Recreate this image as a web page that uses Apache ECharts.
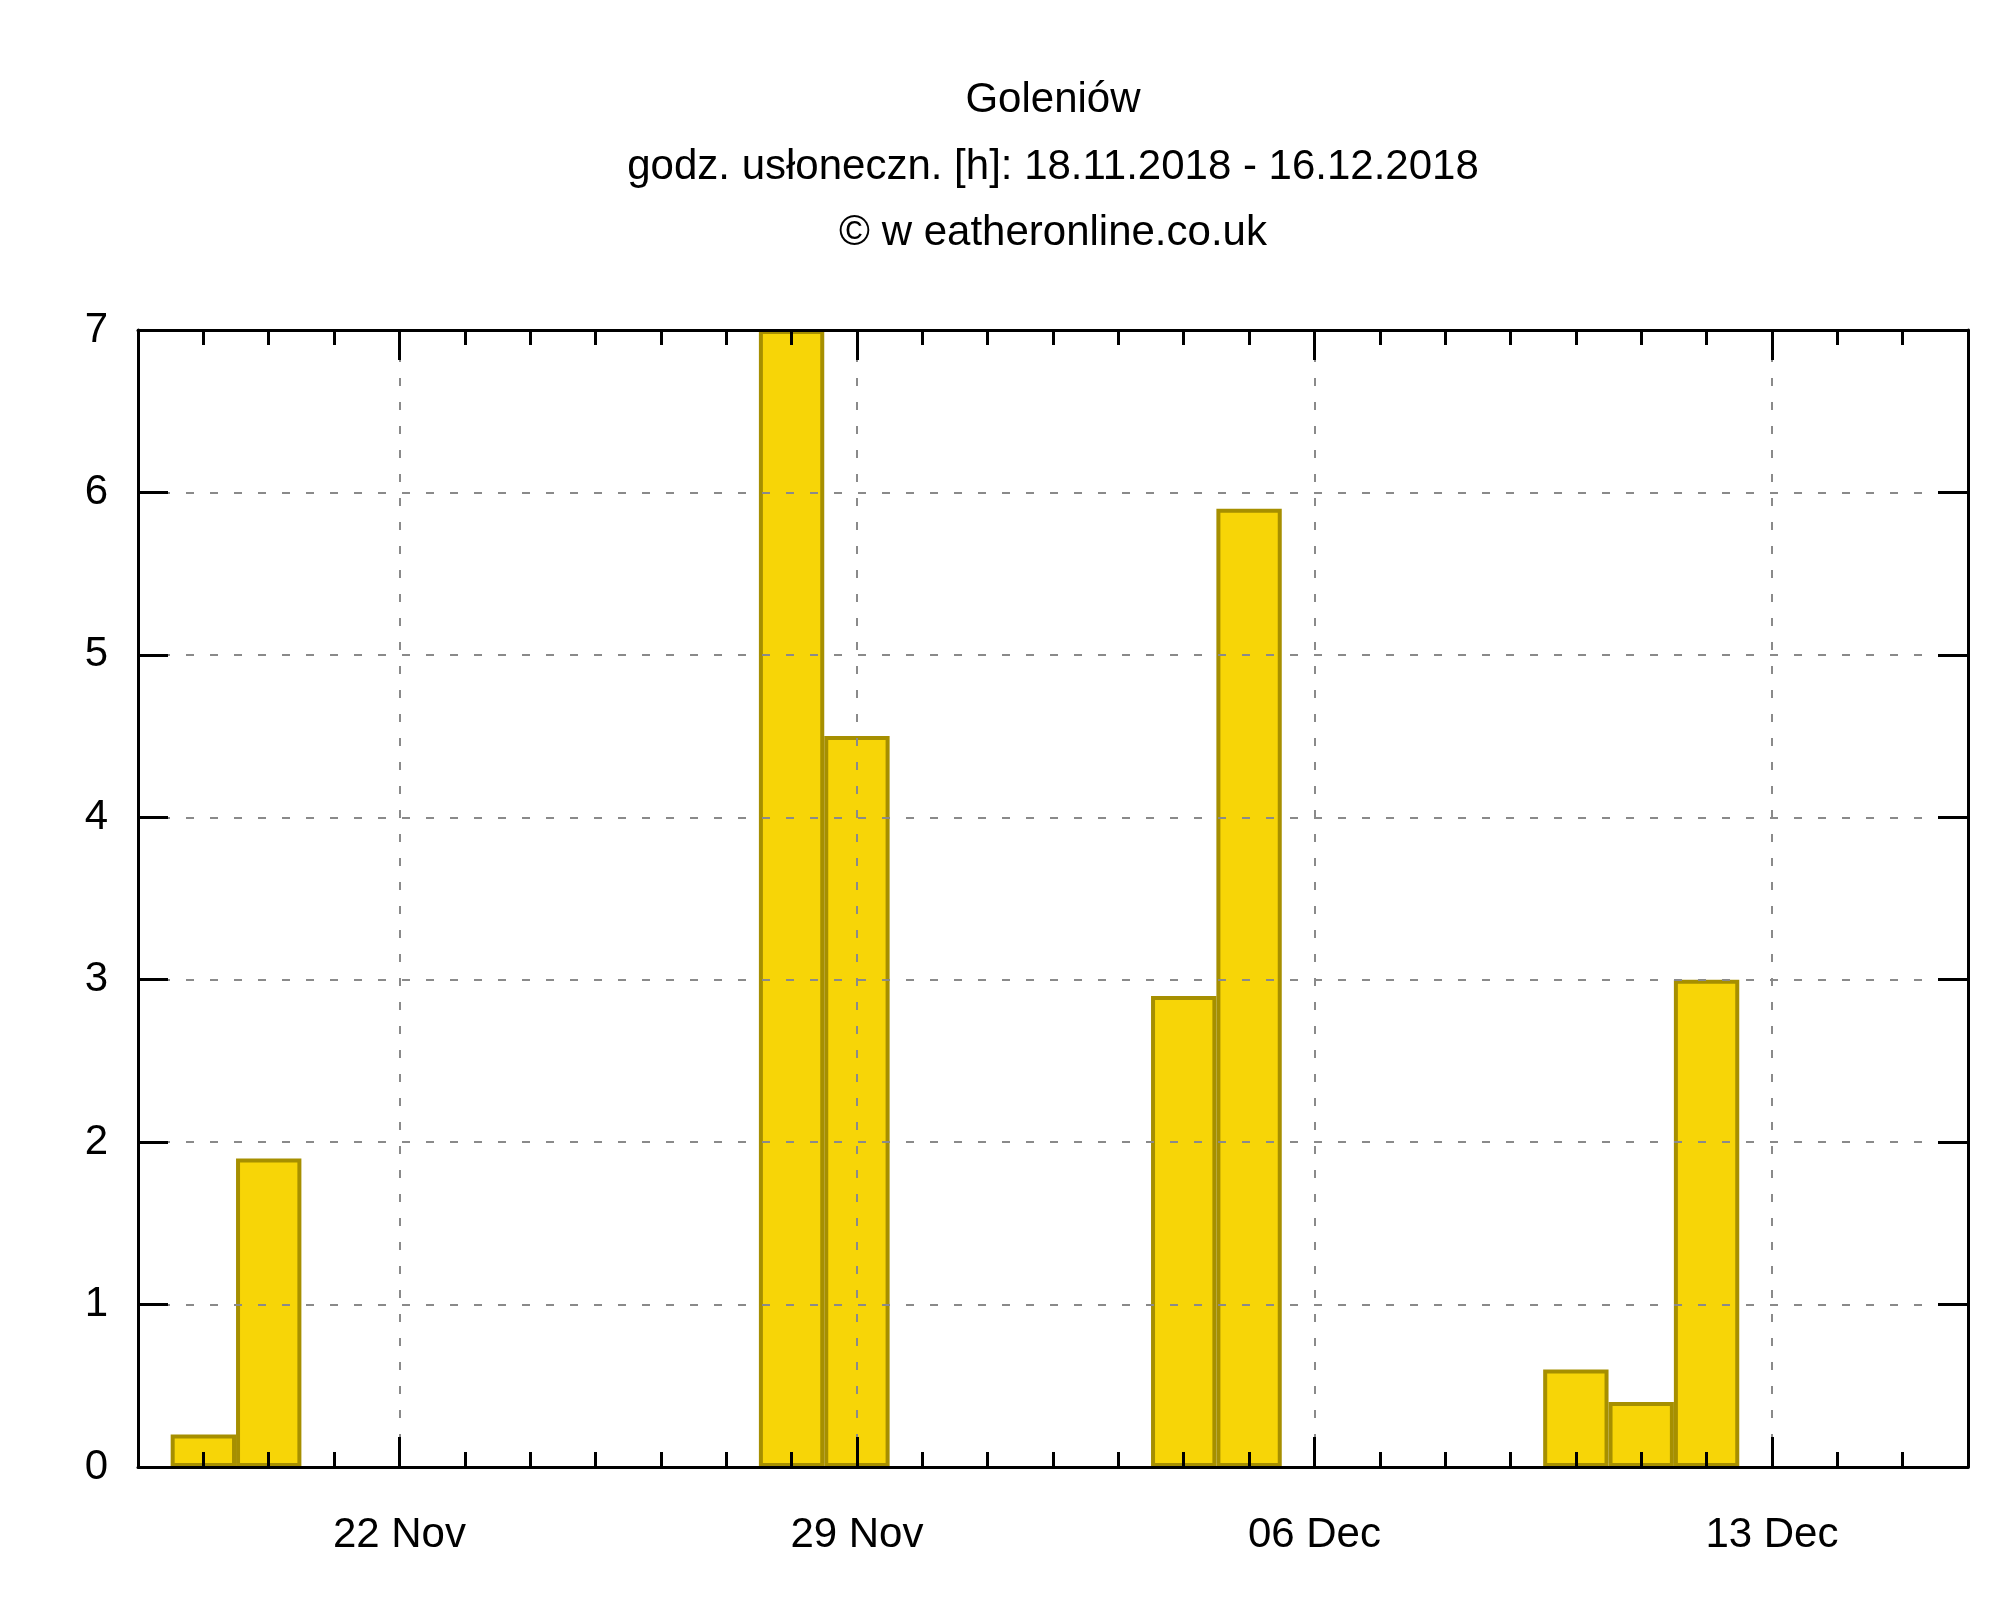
<!DOCTYPE html>
<html>
<head>
<meta charset="utf-8">
<script src="https://cdn.jsdelivr.net/npm/echarts@6/dist/echarts.min.js"></script>
<style>
html,body{margin:0;padding:0;background:#fff;}
#chart{width:2000px;height:1600px;}
</style>
</head>
<body>
<div id="chart"></div>
<script>
const titleLines = ['Goleniów', 'godz. usłoneczn. [h]: 18.11.2018 - 16.12.2018', '© w eatheronline.co.uk'];
const days = ['18 Nov','19 Nov','20 Nov','21 Nov','22 Nov','23 Nov','24 Nov','25 Nov','26 Nov','27 Nov',
  '28 Nov','29 Nov','30 Nov','01 Dec','02 Dec','03 Dec','04 Dec','05 Dec','06 Dec','07 Dec',
  '08 Dec','09 Dec','10 Dec','11 Dec','12 Dec','13 Dec','14 Dec','15 Dec','16 Dec'];
const sunshineHours = [0, 0.2, 1.9, 0, 0, 0, 0, 0, 0, 0,
  7.0, 4.5, 0, 0, 0, 0, 2.9, 5.9, 0, 0,
  0, 0, 0.6, 0.4, 3.0, 0, 0, 0, 0];
const labeledDays = ['22 Nov', '29 Nov', '06 Dec', '13 Dec'];
const yTicks = [0, 1, 2, 3, 4, 5, 6, 7];

const FONT = '"Liberation Sans", Arial, sans-serif';
const isLabeled = (i, v) => labeledDays.indexOf(days[i]) >= 0;
const isInterior = (i, v) => i > 0 && i < days.length - 1;
const gridLine = {show: true, lineStyle: {color: '#8a8a8a', width: 2, type: [8, 16]}};
const frame = {show: true, lineStyle: {color: '#000', width: 3}};

function xAxisDef(position, tickLen, tickFn, withLine, withLabels, withSplit) {
  return {
    type: 'category', gridIndex: 0, position: position, data: days, boundaryGap: false, z: 5,
    axisLine: withLine ? frame : {show: false},
    axisTick: {show: true, inside: true, length: tickLen, interval: tickFn, lineStyle: {color: '#000', width: 3}},
    axisLabel: withLabels ? {show: true, interval: isLabeled, color: '#000', fontSize: 42, fontFamily: FONT, margin: 47} : {show: false},
    splitLine: withSplit ? Object.assign({interval: isLabeled}, gridLine) : {show: false}
  };
}
function yAxisDef(position, withLabels, withSplit) {
  return {
    type: 'value', gridIndex: 0, position: position, min: yTicks[0], max: yTicks[yTicks.length - 1], interval: 1, z: 5,
    axisLine: frame,
    axisTick: {show: true, inside: true, length: 30, lineStyle: {color: '#000', width: 3}},
    axisLabel: withLabels ? {show: true, color: '#000', fontSize: 42, fontFamily: FONT, margin: 30} : {show: false},
    splitLine: withSplit ? gridLine : {show: false}
  };
}

// zero-hour days have no visible box (a zero-height box collapses onto the axis)
const barData = sunshineHours.map(v => (v > 0 ? v : null));

const chart = echarts.init(document.getElementById('chart'), null, {renderer: 'canvas'});
chart.setOption({
  animation: false,
  backgroundColor: '#ffffff',
  grid: {left: 138, right: 32, top: 330, bottom: 133, containLabel: false},
  graphic: titleLines.map((t, i) => ({
    type: 'text', x: 1053, y: 100.5 + i * 66.5, z: 10,
    style: {text: t, fontSize: 42, fontFamily: FONT, fill: '#000', align: 'center', verticalAlign: 'middle'}
  })),
  xAxis: [
    xAxisDef('bottom', 15, isInterior, true, true, true),
    xAxisDef('bottom', 30, isLabeled, false, false, false),
    xAxisDef('top', 15, isInterior, true, false, false),
    xAxisDef('top', 30, isLabeled, false, false, false)
  ],
  yAxis: [
    yAxisDef('left', true, true),
    yAxisDef('right', false, false)
  ],
  series: [{
    type: 'bar', xAxisIndex: 0, yAxisIndex: 0, data: barData, barWidth: '100%', clip: true,
    itemStyle: {color: '#f7d507', borderColor: '#a68f00', borderWidth: 4},
    z: 2
  }]
});
</script>
</body>
</html>
